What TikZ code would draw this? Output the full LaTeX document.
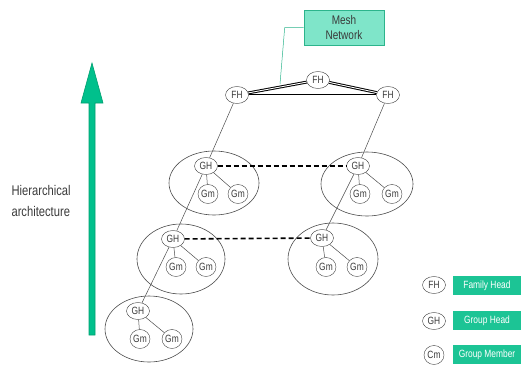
\documentclass[tikz,border=0pt]{standalone}
\usepackage{fontspec}
\setmainfont{Liberation Sans}[FakeStretch=0.8]
\usetikzlibrary{shapes.geometric, positioning}
\definecolor{meshfill}{HTML}{7FE5C9}
\definecolor{meshedge}{HTML}{2CB48C}
\definecolor{keygreen}{HTML}{1CC495}
\definecolor{arrowfill}{HTML}{00C08C}
\definecolor{arrowedge}{HTML}{00A070}
\definecolor{inkgray}{HTML}{3A3A3A}
\tikzset{
  head/.style={draw=black!75, ellipse, inner sep=0pt, minimum width=23pt, minimum height=17pt,
    fill=white, text=inkgray, font=\fontsize{10.5}{11}\selectfont},
  member/.style={head, minimum width=20pt, minimum height=19pt},
  cluster/.style={draw=black!70, ellipse, line width=0.6pt},
  link/.style={draw=black!70, line width=0.5pt},
  mesh/.style={draw=black, double=white, double distance=0.9pt, line width=1pt},
  peer/.style={line width=1.6pt, dash pattern=on 5pt off 3pt},
  keybox/.style={fill=keygreen, text=white, minimum width=68pt, minimum height=19pt,
    inner sep=0pt, font=\fontsize{10.5}{12}\selectfont}
}

\begin{document}
\begin{tikzpicture}[x=1pt, y=-1pt]
		\useasboundingbox (0,0) rectangle (524,367);
		% hierarchy arrow
		\draw[fill=arrowfill, draw=arrowedge, line width=0.6pt]
			(89,335) -- (89,103) -- (81,103) -- (92,63) -- (103,103) -- (95,103) -- (95,335) -- cycle;
		\node[align=left, anchor=west, text=inkgray, font=\fontsize{14}{21}\selectfont] (hier) at (8,201)
			{Hierarchical\\architecture};
		% groups
		\node[cluster, minimum width=90pt, minimum height=64pt] (grp1) at (214,183) {};
		\node[cluster, minimum width=92pt, minimum height=64pt] (grp2) at (367,184) {};
		\node[cluster, minimum width=88pt, minimum height=70pt] (grp3) at (181,259) {};
		\node[cluster, minimum width=90pt, minimum height=72pt] (grp4) at (333,259) {};
		\node[cluster, minimum width=88pt, minimum height=66pt] (grp5) at (149,329) {};
		% family heads
		\node[head] (fhL) at (237,95) {FH};
		\node[head] (fhT) at (318,80) {FH};
		\node[head] (fhR) at (388,95) {FH};
		% group heads and members
		\node[head] (gh1) at (206,166) {GH};
		\node[member] (gm1a) at (208,194) {Gm};
		\node[member] (gm1b) at (238,194) {Gm};
		\node[head] (gh2) at (358,166) {GH};
		\node[member] (gm2a) at (360,194) {Gm};
		\node[member] (gm2b) at (392,194) {Gm};
		\node[head] (gh3) at (173,239) {GH};
		\node[member] (gm3a) at (176,267) {Gm};
		\node[member] (gm3b) at (206,267) {Gm};
		\node[head] (gh4) at (322,238) {GH};
		\node[member] (gm4a) at (326,267) {Gm};
		\node[member] (gm4b) at (357,267) {Gm};
		\node[head] (gh5) at (138,311) {GH};
		\node[member] (gm5a) at (140,339) {Gm};
		\node[member] (gm5b) at (172,339) {Gm};
		% mesh among family heads
		\draw[mesh] (fhL)--(fhT); \draw[mesh] (fhT)--(fhR); \draw[mesh] (fhL)--(fhR);
		\node[draw=meshedge, fill=meshfill, line width=0.6pt, minimum width=80pt, minimum height=35pt,
			align=center, text=inkgray, font=\fontsize{12.5}{15}\selectfont] (mesh) at (344,27.5) {Mesh\\Network};
		\coordinate (meshpt) at (280,84);
		\draw[meshedge, line width=0.5pt] (mesh.west) -- ++(-19,0) -- (meshpt);
		% tree links
		\draw[link] (fhL)--(gh1); \draw[link] (gh1)--(gh3); \draw[link] (gh3)--(gh5);
		\draw[link] (fhR)--(gh2); \draw[link] (gh2)--(gh4);
		\draw[link] (gh1)--(gm1a); \draw[link] (gh1)--(gm1b);
		\draw[link] (gh2)--(gm2a); \draw[link] (gh2)--(gm2b);
		\draw[link] (gh3)--(gm3a); \draw[link] (gh3)--(gm3b);
		\draw[link] (gh4)--(gm4a); \draw[link] (gh4)--(gm4b);
		\draw[link] (gh5)--(gm5a); \draw[link] (gh5)--(gm5b);
		% peer links between group heads
		\draw[peer] (gh1)--(gh2); \draw[peer] (gh3)--(gh4);
		% legend
		\node[head] (keyFH) at (434,285) {FH};
		\node[keybox] (keyFHtext) at (487,285.5) {Family Head};
		\node[head] (keyGH) at (434,321) {GH};
		\node[keybox] (keyGHtext) at (487,320.5) {Group Head};
		\node[member] (keyCm) at (434,355) {Cm};
		\node[keybox] (keyCmtext) at (487,354.5) {Group Member};
\end{tikzpicture}
\end{document}
